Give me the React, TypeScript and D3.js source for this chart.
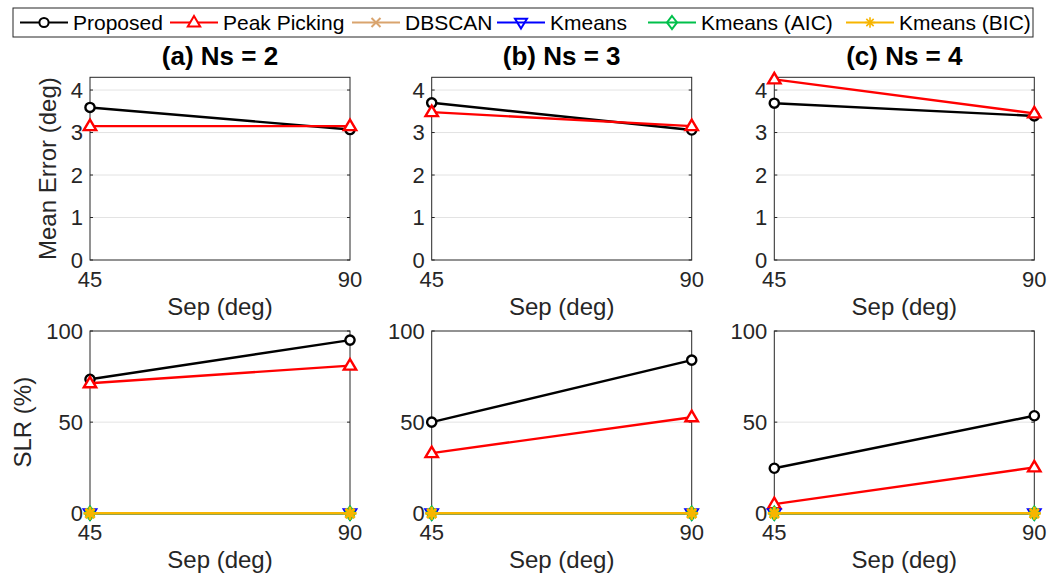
import React from "react";
import * as d3 from "d3";

const seps = [45, 90];
const panelTitles = ["(a) Ns = 2", "(b) Ns = 3", "(c) Ns = 4"];
const errTicks = [0, 1, 2, 3, 4];
const slrTicks = [0, 50, 100];

// Mean Error (deg) per panel
const proposedErr = [[3.59, 3.07], [3.7, 3.06], [3.69, 3.39]];
const peakErr = [[3.15, 3.15], [3.48, 3.15], [4.25, 3.45]];

// SLR (%) per panel
const proposedSLR = [[73.5, 95], [50, 84], [24.7, 53.5]];
const peakSLR = [[71.3, 81], [33, 52.7], [5, 25.2]];
const dbscanSLR = [[0, 0], [0, 0], [0, 0]];
const kmeansSLR = [[0, 0], [0, 0], [0, 0]];
const kmeansAicSLR = [[0, 0], [0, 0], [0, 0]];
const kmeansBicSLR = [[0, 0], [0, 0], [0, 0]];

const seriesNames = ["Proposed", "Peak Picking", "DBSCAN", "Kmeans", "Kmeans (AIC)", "Kmeans (BIC)"];
const seriesColors = ["#000000", "#FF0000", "#D9A46E", "#0000FF", "#00C04B", "#F7B500"];
const seriesMarkers = ["circle", "triangle", "x", "tridown", "diamond", "asterisk"];

const FONT = "'Liberation Sans', Arial, Helvetica, sans-serif";
const AX = "#262626";

function markerPath(kind: string): string {
  const p = d3.path();
  if (kind === "circle") {
    p.moveTo(4.6, 0);
    p.arc(0, 0, 4.6, 0, Math.PI * 2);
    p.closePath();
  } else if (kind === "triangle") {
    p.moveTo(0, -6.5);
    p.lineTo(6.2, 4);
    p.lineTo(-6.2, 4);
    p.closePath();
  } else if (kind === "tridown") {
    p.moveTo(0, 6);
    p.lineTo(6, -3.8);
    p.lineTo(-6, -3.8);
    p.closePath();
  } else if (kind === "diamond") {
    p.moveTo(0, -6.5);
    p.lineTo(5, 0);
    p.lineTo(0, 6.5);
    p.lineTo(-5, 0);
    p.closePath();
  } else if (kind === "x") {
    p.moveTo(-4.5, -4.5);
    p.lineTo(4.5, 4.5);
    p.moveTo(-4.5, 4.5);
    p.lineTo(4.5, -4.5);
  } else if (kind === "asterisk") {
    for (let i = 0; i < 4; i++) {
      const a = (i * Math.PI) / 4;
      p.moveTo(-6.5 * Math.cos(a), -6.5 * Math.sin(a));
      p.lineTo(6.5 * Math.cos(a), 6.5 * Math.sin(a));
    }
  }
  return p.toString();
}

const Marker = ({ x, y, i, legend }: { x: number; y: number; i: number; legend?: boolean }) => (
  <path
    d={markerPath(seriesMarkers[i])}
    transform={`translate(${x},${y})${legend && seriesMarkers[i] === "asterisk" ? " scale(0.8)" : ""}`}
    fill={seriesMarkers[i] === "circle" || seriesMarkers[i] === "triangle" ? "#fff" : "none"}
    stroke={seriesColors[i]}
    strokeWidth={legend ? 2 : seriesMarkers[i] === "asterisk" ? 2.8 : 2.4}
  />
);

const panelLefts = [90, 431.7, 774.3];
const panelWidth = 260;
const rows = [
  { top: 77.3, bottom: 260, domain: [0, 4.3], ticks: errTicks, label: "Mean Error (deg)", labelX: 55.5 },
  { top: 331, bottom: 513.3, domain: [0, 100], ticks: slrTicks, label: "SLR (%)", labelX: 31 },
];

function Panel({ col, row }: { col: number; row: number }) {
  const r = rows[row];
  const left = panelLefts[col];
  const right = left + panelWidth;
  const x = d3.scaleLinear().domain([45, 90]).range([left, right]);
  const y = d3.scaleLinear().domain(r.domain).range([r.bottom, r.top]);
  const line = d3
    .line<[number, number]>()
    .x((d) => x(d[0]))
    .y((d) => y(d[1]));
  const data: number[][][] =
    row === 0
      ? [proposedErr, peakErr]
      : [proposedSLR, peakSLR, dbscanSLR, kmeansSLR, kmeansAicSLR, kmeansBicSLR];
  const grid = r.ticks.filter((t) => t > r.domain[0] && t < r.domain[1]);
  return (
    <g>
      {grid.map((t) => (
        <line key={"g" + t} x1={left} x2={right} y1={y(t)} y2={y(t)} stroke="#E3E3E3" strokeWidth={1} />
      ))}
      {r.ticks.map((t) => (
        <g key={"t" + t}>
          <line x1={left} x2={left + 3} y1={y(t)} y2={y(t)} stroke={AX} />
          <line x1={right - 3} x2={right} y1={y(t)} y2={y(t)} stroke={AX} />
          <text x={left - 7} y={y(t)} dy="0.35em" textAnchor="end" fontSize={22} fill={AX} fontFamily={FONT}>
            {t}
          </text>
        </g>
      ))}
      <rect x={left} y={r.top} width={panelWidth} height={r.bottom - r.top} fill="none" stroke={AX} strokeWidth={1} />
      {seps.map((s) => (
        <text key={"x" + s} x={x(s)} y={r.bottom + 27} textAnchor="middle" fontSize={22} fill={AX} fontFamily={FONT}>
          {s}
        </text>
      ))}
      <text x={(left + right) / 2} y={r.bottom + 55} textAnchor="middle" fontSize={24} fill={AX} fontFamily={FONT}>
        Sep (deg)
      </text>
      {col === 0 && (
        <text
          transform={`translate(${r.labelX},${(r.top + r.bottom) / 2}) rotate(-90)`}
          textAnchor="middle"
          fontSize={24}
          fill={AX}
          fontFamily={FONT}
        >
          {r.label}
        </text>
      )}
      {row === 0 && (
        <text x={(left + right) / 2} y={65} textAnchor="middle" fontSize={26} fontWeight="bold" fill="#000" fontFamily={FONT}>
          {panelTitles[col]}
        </text>
      )}
      {data.map((series, i) => {
        const pts = seps.map((s, k) => [s, series[col][k]] as [number, number]);
        return (
          <g key={"s" + i}>
            <path d={line(pts) || ""} fill="none" stroke={seriesColors[i]} strokeWidth={2.4} />
            {pts.map((p, k) => (
              <Marker key={k} x={x(p[0])} y={y(p[1])} i={i} />
            ))}
          </g>
        );
      })}
    </g>
  );
}

const legendStarts = [20, 170, 352, 497, 648, 846];

export default function App() {
  return (
    <svg
      width={1056}
      height={581}
      style={{ position: "absolute", left: 0, top: 0, background: "#fff" }}
    >
      <rect x={0} y={0} width={1056} height={581} fill="#fff" />
      <rect x={13} y={8} width={1020} height={29} fill="#fff" stroke={AX} strokeWidth={1} />
      {seriesNames.map((name, i) => {
        const x0 = legendStarts[i];
        return (
          <g key={name}>
            <line x1={x0} x2={x0 + 48} y1={22.5} y2={22.5} stroke={seriesColors[i]} strokeWidth={2} />
            <Marker x={x0 + 24} y={22.5} i={i} legend />
            <text x={x0 + 53} y={30} fontSize={21} fill="#000" fontFamily={FONT}>
              {name}
            </text>
          </g>
        );
      })}
      {[0, 1].map((row) => [0, 1, 2].map((col) => <Panel key={row + "-" + col} row={row} col={col} />))}
    </svg>
  );
}
